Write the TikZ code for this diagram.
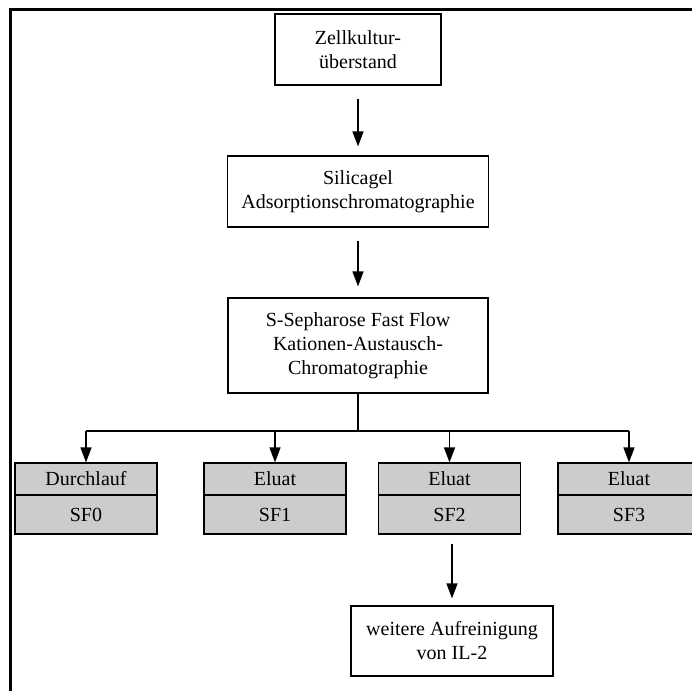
\documentclass[tikz,border=0pt]{standalone}
\usepackage{fontspec}
\setmainfont{Liberation Serif}
\usetikzlibrary{arrows.meta}
\begin{document}
\begin{tikzpicture}[x=1pt,y=-1pt,
  box/.style={draw=black, line width=1.2pt, fill=white, inner sep=0pt, align=center,
    font=\fontsize{20pt}{24pt}\selectfont},
  gbox/.style={box, fill=black!20},
  arr/.style={line width=1.4pt, -{Triangle[length=15pt,width=11pt]}},
  conn/.style={line width=1.4pt}]
\useasboundingbox (0,0) rectangle (692,691);
% frame (top and left edges only visible)
\draw[line width=2.2pt] (10.5,691) -- (10.5,9.5) -- (692,9.5);

\node[box, minimum width=166pt, minimum height=71pt] (zk) at (358,49.5) {Zellkultur-\\überstand};
\node[box, minimum width=261pt, minimum height=71pt] (sil) at (358,191.5) {Silicagel\\Adsorptionschromatographie};
\node[box, minimum width=260pt, minimum height=95pt] (sep) at (358,345.5) {S-Sepharose Fast Flow\\Kationen-Austausch-\\Chromatographie};

\foreach \n/\x/\h in {0/86/Durchlauf,1/275/Eluat,2/449.5/Eluat,3/629/Eluat}{
  \node[gbox, minimum width=142pt, minimum height=32pt] (SF\n h) at (\x,479) {\h};
  \node[gbox, minimum width=142pt, minimum height=39pt] (SF\n v) at (\x,514.5) {SF\n};
}

\node[box, minimum width=202pt, minimum height=70pt] (weit) at (452,641) {weitere Aufreinigung\\von IL-2};

\draw[arr, shorten <=13pt, shorten >=9pt] (zk.south) -- (sil.north);
\draw[arr, shorten <=13pt, shorten >=11pt] (sil.south) -- (sep.north);

\coordinate (br) at (358,431);
\draw[conn] (sep.south) -- (br);
\draw[conn] (br -| SF0h.north) -- (br -| SF3h.north);
\foreach \n in {0,1,2,3}{
  \draw[arr] (br -| SF\n h.north) -- (SF\n h.north);
}
\draw[arr, shorten <=9pt, shorten >=7pt] (SF2v.south -| weit.north) -- (weit.north);
\end{tikzpicture}
\end{document}
